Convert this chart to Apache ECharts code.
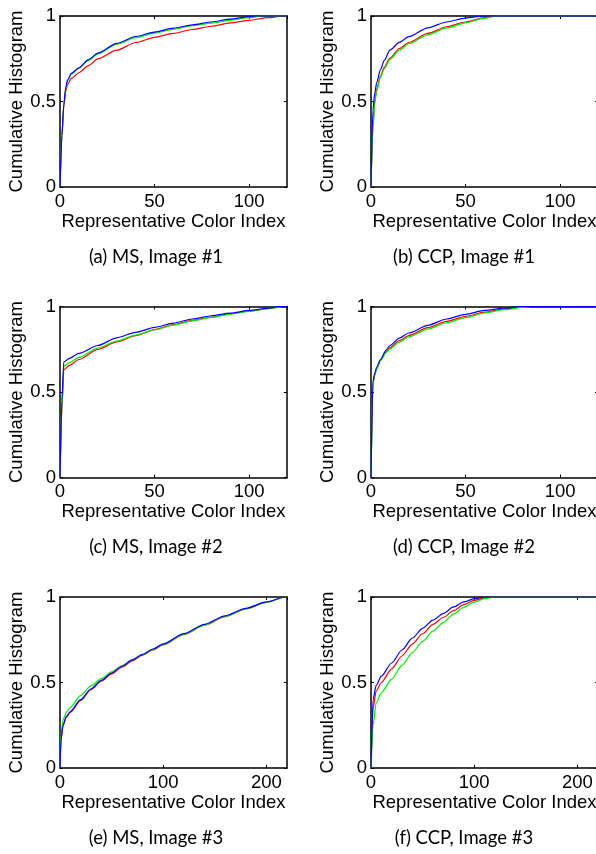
<!DOCTYPE html>
<html>
<head>
<meta charset="utf-8">
<script src="https://cdn.jsdelivr.net/npm/echarts@6/dist/echarts.min.js"></script>
<style>
html,body{margin:0;padding:0;background:#fff;}
#chart{width:596px;height:854px;}
</style>
</head>
<body>
<div id="chart"></div>
<script>
// Captions and axis texts
const captions = ['(a) MS, Image #1', '(b) CCP, Image #1', '(c) MS, Image #2', '(d) CCP, Image #2', '(e) MS, Image #3', '(f) CCP, Image #3'];
const xTitle = 'Representative Color Index';
const yTitle = 'Cumulative Histogram';
const xMaxes = [120, 120, 120, 120, 220, 220];
const xIntervals = [50, 50, 50, 50, 100, 100];
const yTickLabels = ['0', '0.5', '1'];

// (a) MS, Image #1
const aRed = [[0,0],[1,0.3],[2,0.47],[3,0.56],[4,0.6],[6,0.635],[10,0.668],[15,0.71],[20,0.749],[30,0.8],[40,0.845],[50,0.875],[60,0.898],[70,0.921],[80,0.94],[90,0.96],[100,0.975],[110,0.99],[118,1],[120,1]];
const aGreen = [[0,0],[1,0.3],[2,0.48],[3,0.57],[4,0.62],[6,0.66],[10,0.695],[15,0.74],[20,0.778],[30,0.835],[40,0.873],[50,0.9],[60,0.922],[70,0.943],[80,0.958],[90,0.975],[100,0.99],[107,1],[120,1]];
const aBlue = [[0,0],[1,0.3],[2,0.48],[3,0.58],[4,0.626],[6,0.665],[10,0.697],[15,0.745],[20,0.783],[30,0.84],[40,0.88],[50,0.906],[60,0.929],[70,0.948],[80,0.965],[90,0.982],[100,0.996],[103,1],[120,1]];
// (b) CCP, Image #1
const bRed = [[0,0],[1,0.35],[2,0.5],[3,0.57],[5,0.65],[7,0.7],[10,0.754],[15,0.81],[20,0.845],[30,0.898],[40,0.937],[50,0.965],[60,0.99],[65,1],[120,1]];
const bGreen = [[0,0],[1,0.34],[2,0.49],[3,0.56],[5,0.64],[7,0.69],[10,0.745],[15,0.8],[20,0.838],[30,0.89],[40,0.93],[50,0.96],[60,0.987],[67,1],[120,1]];
const bBlue = [[0,0],[1,0.45],[2,0.55],[3,0.61],[5,0.687],[7,0.74],[10,0.8],[15,0.846],[20,0.879],[30,0.931],[40,0.965],[50,0.988],[55,0.995],[60,1],[120,1]];
// (c) MS, Image #2
const cRed = [[0,0],[1,0.4],[2,0.63],[5,0.656],[10,0.69],[20,0.749],[30,0.793],[40,0.83],[50,0.865],[60,0.894],[70,0.919],[80,0.938],[90,0.957],[100,0.973],[110,0.988],[118,1],[120,1]];
const cGreen = [[0,0],[1,0.42],[2,0.65],[5,0.672],[10,0.703],[20,0.757],[30,0.798],[40,0.833],[50,0.864],[60,0.891],[70,0.916],[80,0.936],[90,0.955],[100,0.972],[110,0.987],[118,1],[120,1]];
const cBlue = [[0,0],[1,0.45],[2,0.676],[5,0.697],[10,0.726],[20,0.772],[30,0.817],[40,0.849],[50,0.878],[60,0.903],[70,0.927],[80,0.946],[90,0.961],[100,0.977],[110,0.99],[116,1],[120,1]];
// (d) CCP, Image #2
const dRed = [[0,0],[1,0.55],[2,0.6],[3,0.635],[5,0.685],[8,0.735],[10,0.759],[15,0.8],[20,0.83],[30,0.876],[40,0.913],[50,0.942],[60,0.967],[70,0.985],[80,0.996],[85,1],[120,1]];
const dGreen = [[0,0],[1,0.55],[2,0.6],[3,0.635],[5,0.683],[8,0.73],[10,0.752],[15,0.792],[20,0.822],[30,0.868],[40,0.905],[50,0.935],[60,0.962],[70,0.981],[80,0.995],[85,1],[120,1]];
const dBlue = [[0,0],[1,0.56],[2,0.61],[3,0.645],[5,0.69],[8,0.745],[10,0.772],[15,0.815],[20,0.845],[30,0.89],[40,0.927],[50,0.954],[60,0.977],[70,0.99],[80,1],[120,1]];
// (e) MS, Image #3
const eRed = [[0,0],[1,0.17],[3,0.25],[6,0.295],[10,0.325],[20,0.395],[30,0.458],[40,0.508],[50,0.55],[60,0.59],[70,0.627],[80,0.66],[90,0.69],[100,0.72],[120,0.78],[140,0.835],[160,0.885],[180,0.93],[200,0.968],[218,1],[220,1]];
const eGreen = [[0,0],[1,0.2],[3,0.28],[6,0.325],[10,0.355],[20,0.425],[30,0.48],[40,0.523],[50,0.562],[60,0.598],[70,0.632],[80,0.663],[90,0.692],[100,0.722],[120,0.781],[140,0.836],[160,0.886],[180,0.93],[200,0.968],[218,1],[220,1]];
const eBlue = [[0,0],[1,0.17],[3,0.25],[6,0.3],[10,0.33],[20,0.4],[30,0.462],[40,0.512],[50,0.555],[60,0.595],[70,0.632],[80,0.665],[90,0.696],[100,0.726],[120,0.786],[140,0.84],[160,0.89],[180,0.934],[200,0.971],[218,1],[220,1]];
// (f) CCP, Image #3
const fRed = [[0,0],[2,0.35],[5,0.45],[10,0.5],[20,0.58],[30,0.655],[40,0.725],[50,0.785],[60,0.84],[70,0.88],[80,0.92],[90,0.955],[100,0.98],[110,0.995],[115,1],[220,1]];
const fGreen = [[0,0],[2,0.25],[5,0.38],[10,0.44],[20,0.52],[30,0.6],[40,0.675],[50,0.74],[60,0.8],[70,0.85],[80,0.9],[90,0.94],[100,0.97],[110,0.99],[120,1],[220,1]];
const fBlue = [[0,0],[2,0.4],[5,0.483],[10,0.537],[20,0.614],[30,0.69],[40,0.759],[50,0.817],[60,0.865],[70,0.903],[80,0.942],[90,0.971],[100,0.99],[110,1],[220,1]];

const panelSeries = [
  [aRed, aGreen, aBlue],
  [bRed, bGreen, bBlue],
  [cRed, cGreen, cBlue],
  [dRed, dGreen, dBlue],
  [eRed, eGreen, eBlue],
  [fRed, fGreen, fBlue]
];
const lineColors = ['#ff0000', '#00ee00', '#0000ff'];

// layout
const colLeft = [60, 371];
const rowTop = [16, 306.5, 597];
const plotW = 227, plotH = 171;
const capX = [156, 464];
const capY = [257, 547.5, 838];

const axisFont = 'Liberation Sans, Arial, sans-serif';
const lineStyleAxis = { color: '#000', width: 1.5 };

const grid = [], xAxis = [], yAxis = [], series = [], graphic = [];
for (let p = 0; p < 6; p++) {
  const r = Math.floor(p / 2), c = p % 2;
  grid.push({ left: colLeft[c], top: rowTop[r], width: plotW, height: plotH, outerBoundsMode: 'none', containLabel: false });
  const xi = xAxis.length, yi = yAxis.length;
  // bottom x axis
  xAxis.push({
    gridIndex: p, type: 'value', position: 'bottom', min: 0, max: xMaxes[p], interval: xIntervals[p],
    axisLine: { show: true, onZero: false, lineStyle: lineStyleAxis },
    axisTick: { show: true, inside: true, length: 3, lineStyle: { color: '#000', width: 1 } },
    axisLabel: { show: true, color: '#000', fontFamily: axisFont, fontSize: 18.5, margin: 5, showMaxLabel: false, showMinLabel: true },
    splitLine: { show: false },
    name: xTitle, nameLocation: 'middle', nameGap: 25,
    nameTextStyle: { color: '#000', fontFamily: axisFont, fontSize: 18.5 }
  });
  // top x axis (box)
  xAxis.push({
    gridIndex: p, type: 'value', position: 'top', min: 0, max: xMaxes[p], interval: xIntervals[p],
    axisLine: { show: true, onZero: false, lineStyle: lineStyleAxis },
    axisTick: { show: true, inside: true, length: 3, lineStyle: { color: '#000', width: 1 } },
    axisLabel: { show: false }, splitLine: { show: false }
  });
  // left y axis
  yAxis.push({
    gridIndex: p, type: 'value', position: 'left', min: 0, max: 1, interval: 0.5,
    axisLine: { show: true, onZero: false, lineStyle: lineStyleAxis },
    axisTick: { show: true, inside: true, length: 3, lineStyle: { color: '#000', width: 1 } },
    axisLabel: { show: true, color: '#000', fontFamily: axisFont, fontSize: 18.5, margin: 4,
      formatter: v => yTickLabels[Math.round(v * 2)] },
    splitLine: { show: false },
    name: yTitle, nameLocation: 'middle', nameGap: 34,
    nameTextStyle: { color: '#000', fontFamily: axisFont, fontSize: 18.5 }
  });
  // right y axis (box)
  yAxis.push({
    gridIndex: p, type: 'value', position: 'right', min: 0, max: 1, interval: 0.5,
    axisLine: { show: true, onZero: false, lineStyle: lineStyleAxis },
    axisTick: { show: true, inside: true, length: 3, lineStyle: { color: '#000', width: 1 } },
    axisLabel: { show: false }, splitLine: { show: false }
  });
  panelSeries[p].forEach((d, k) => {
    series.push({
      type: 'line', xAxisIndex: xi, yAxisIndex: yi, data: d,
      showSymbol: false, symbol: 'none', smooth: 0.25, smoothMonotone: 'x',
      lineStyle: { color: lineColors[k], width: 1.2 }, z: 3 + k
    });
  });
  graphic.push({
    type: 'text', x: capX[c], y: capY[r],
    style: { text: captions[p], fill: '#000', font: '18.5px Lato, "Open Sans", sans-serif', align: 'center', verticalAlign: 'middle' }
  });
}

const chart = echarts.init(document.getElementById('chart'), null, { renderer: 'canvas' });
chart.setOption({
  animation: false,
  backgroundColor: '#fff',
  grid, xAxis, yAxis, series, graphic
});
</script>
</body>
</html>
